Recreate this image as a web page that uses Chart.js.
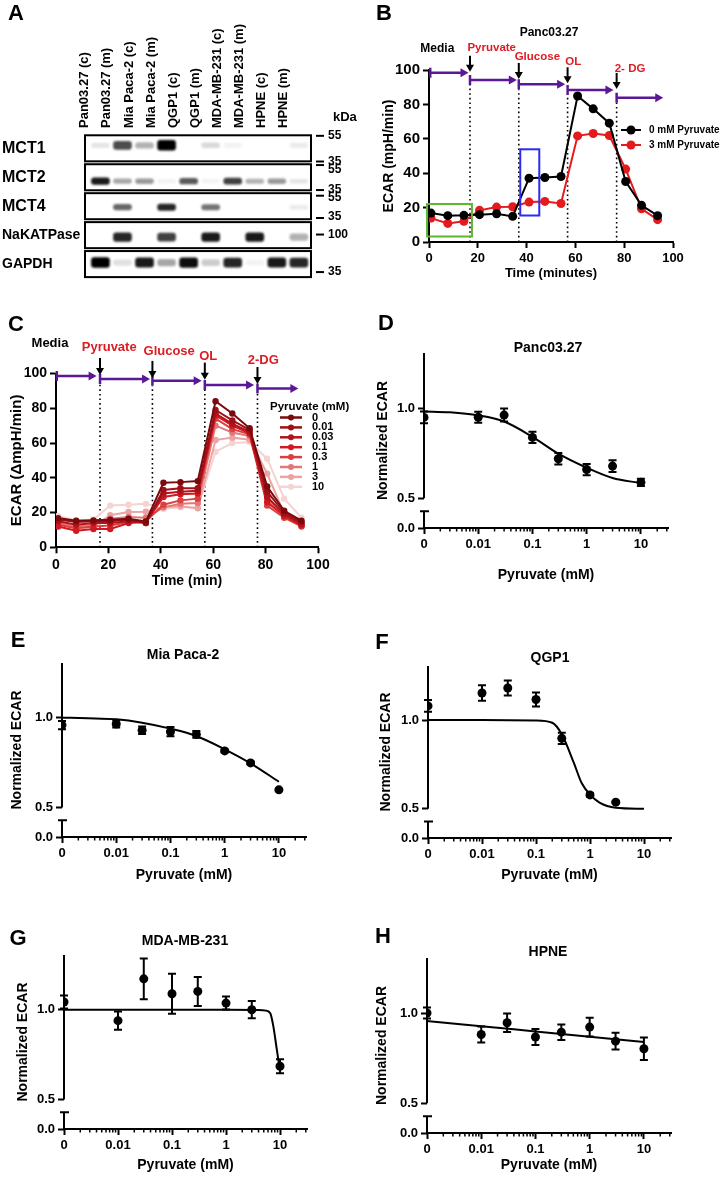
<!DOCTYPE html>
<html>
<head>
<meta charset="utf-8">
<script src="https://cdn.jsdelivr.net/npm/chart.js@4.4.1/dist/chart.umd.min.js"></script>
<style>
  body { margin: 0; background: #fff; }
  #fig { position: relative; width: 722px; height: 1186px; overflow: hidden;
         font-family: 'Liberation Sans', Arial, Helvetica, sans-serif; font-weight: bold; color: #000; }
  #fig canvas { position: absolute; }
  .lbl { position: absolute; transform: translate(-50%, -50%); white-space: nowrap; z-index: 2; }
  .letter { font-size: 22px; }
  .ttl { font-size: 14px; }
</style>
</head>
<body>
<div id="fig">
  <div class="lbl letter" style="left:16px;top:13px">A</div>
  <div class="lbl letter" style="left:384px;top:13px">B</div>
  <div class="lbl letter" style="left:16px;top:324px">C</div>
  <div class="lbl letter" style="left:386px;top:323px">D</div>
  <div class="lbl letter" style="left:18px;top:640px">E</div>
  <div class="lbl letter" style="left:382px;top:642px">F</div>
  <div class="lbl letter" style="left:18px;top:938px">G</div>
  <div class="lbl letter" style="left:383px;top:936px">H</div>

  <div class="lbl" style="left:549px;top:32px;font-size:12px">Panc03.27</div>
  <div class="lbl ttl" style="left:548px;top:347px">Panc03.27</div>
  <div class="lbl ttl" style="left:183px;top:654px">Mia Paca-2</div>
  <div class="lbl ttl" style="left:550px;top:657px">QGP1</div>
  <div class="lbl ttl" style="left:185px;top:940px">MDA-MB-231</div>
  <div class="lbl ttl" style="left:548px;top:951px">HPNE</div>
</div>

<script>
// ---- A: western blot ----
const lanes = ['Pan03.27 (c)', 'Pan03.27 (m)', 'Mia Paca-2 (c)', 'Mia Paca-2 (m)', 'QGP1 (c)',
               'QGP1 (m)', 'MDA-MB-231 (c)', 'MDA-MB-231 (m)', 'HPNE (c)', 'HPNE (m)'];
const proteins = ['MCT1', 'MCT2', 'MCT4', 'NaKATPase', 'GAPDH'];
// band darkness per lane, 0 = no band
const mct1      = [0.10, 0.70, 0.30, 1.00, 0.00, 0.15, 0.05, 0.00, 0.00, 0.08];
const mct2      = [0.90, 0.35, 0.40, 0.05, 0.65, 0.05, 0.75, 0.30, 0.40, 0.10];
const mct4      = [0.00, 0.60, 0.00, 0.85, 0.00, 0.55, 0.00, 0.00, 0.00, 0.08];
const nakatpase = [0.00, 0.85, 0.00, 0.75, 0.00, 0.90, 0.00, 0.90, 0.00, 0.30];
const gapdh     = [1.00, 0.12, 0.90, 0.35, 0.95, 0.20, 0.85, 0.05, 0.90, 0.85];

// ---- B / C: ECAR time course ----
const timeMin  = [0.8, 7.7, 14.3, 20.7, 27.7, 34.3, 41.0, 47.5, 54.1, 60.9, 67.3, 73.9, 80.6, 87.1, 93.7];
const ecar0mM  = [16.8, 15.3, 15.5, 15.9, 16.4, 14.9, 37.1, 37.5, 38.1, 84.9, 77.4, 69.1, 35.2, 21.3, 15.3];
const ecar3mM  = [13.9, 10.8, 12.0, 18.4, 20.3, 20.5, 23.2, 23.6, 22.4, 61.7, 63.1, 61.9, 42.4, 19.3, 13.0];
const injections = ['Pyruvate', 'Glucose', 'OL', '2-DG'];

const pyrDoses = ['0', '0.01', '0.03', '0.1', '0.3', '1', '3', '10'];
const cP0    = [16.8, 15.3, 15.5, 15.9, 16.4, 14.9, 37.1, 37.5, 38.1, 84.0, 77.0, 68.5, 35.0, 21.0, 15.3];
const cP001  = [16.0, 14.5, 15.0, 15.0, 16.0, 14.0, 33.0, 34.0, 34.0, 79.0, 73.0, 67.5, 32.0, 20.0, 14.5];
const cP003  = [15.0, 13.0, 14.0, 14.0, 15.0, 14.0, 31.0, 32.0, 32.5, 77.0, 71.0, 66.5, 29.0, 19.0, 13.5];
const cP01   = [12.0, 9.5, 10.5, 10.5, 14.0, 14.5, 29.0, 30.5, 31.0, 76.0, 70.0, 65.5, 26.0, 18.0, 12.5];
const cP03   = [13.0, 11.0, 12.0, 12.5, 14.5, 15.0, 24.5, 27.0, 28.0, 74.0, 68.0, 65.0, 24.0, 17.0, 12.0];
const cP1    = [14.0, 12.0, 13.0, 16.5, 17.5, 17.0, 23.0, 25.0, 25.5, 70.0, 66.0, 64.0, 28.0, 18.0, 12.5];
const cP3    = [13.9, 10.8, 12.0, 18.4, 20.3, 20.5, 23.2, 23.6, 22.4, 61.7, 63.1, 61.9, 42.4, 19.3, 13.0];
const cP10   = [18.0, 15.5, 16.0, 24.0, 24.5, 25.0, 22.0, 23.0, 23.0, 55.0, 60.0, 60.5, 51.0, 28.0, 17.0];
const cSeries = [cP0, cP001, cP003, cP01, cP03, cP1, cP3, cP10];

// ---- D-H: normalized ECAR vs pyruvate ----
const doseMM = [0, 0.01, 0.03, 0.1, 0.3, 1, 3, 10];
const pancMean = [0.948, 0.949, 0.961, 0.837, 0.719, 0.659, 0.678, 0.588];
const pancSem  = [0.033, 0.031, 0.036, 0.031, 0.032, 0.031, 0.033, 0.020];
const pancFitX = [0.001, 0.003, 0.01, 0.03, 0.1, 0.3, 1, 3, 10];
const pancFitY = [0.981, 0.976, 0.959, 0.925, 0.840, 0.747, 0.669, 0.612, 0.584];

const miaMean = [0.959, 0.965, 0.930, 0.922, 0.907, 0.815, 0.748, 0.598];
const miaSem  = [0.023, 0.020, 0.021, 0.026, 0.019, 0.008, 0.008, 0.006];
const miaFitX = [0.001, 0.003, 0.01, 0.03, 0.1, 0.3, 1, 3, 10];
const miaFitY = [1.000, 0.997, 0.991, 0.972, 0.939, 0.898, 0.824, 0.746, 0.643];

const qgpMean = [1.080, 1.153, 1.181, 1.116, 0.897, 0.578, 0.537, null];
const qgpSem  = [0.033, 0.044, 0.042, 0.039, 0.032, 0.010, 0.006, null];
const qgpFitX = [0.001, 0.01, 0.1, 0.2, 0.3, 0.5, 0.7, 1, 1.5, 3, 10];
const qgpFitY = [1.000, 1.000, 0.998, 0.985, 0.920, 0.760, 0.645, 0.580, 0.535, 0.506, 0.500];

const mdaMean = [1.043, 0.939, 1.172, 1.089, 1.102, 1.037, 1.000, 0.685];
const mdaSem  = [0.036, 0.051, 0.114, 0.111, 0.081, 0.036, 0.048, 0.039];
const mdaFitX = [0.001, 1, 4, 5.5, 6.6, 7.5, 8.7, 10];
const mdaFitY = [1.000, 1.000, 0.999, 0.995, 0.980, 0.910, 0.780, 0.660];

const hpneMean = [1.000, 0.881, 0.946, 0.867, 0.894, 0.922, 0.844, 0.802];
const hpneSem  = [0.031, 0.045, 0.051, 0.044, 0.043, 0.052, 0.046, 0.063];
const hpneFitX = [0.001, 0.01, 0.1, 1, 10];
const hpneFitY = [0.956, 0.927, 0.898, 0.869, 0.839];

// ------------------------------------------------------------------
const FONT = "'Liberation Sans', Arial, Helvetica, sans-serif";
const RED = '#e41a1c';
const NOTE_RED = '#dd1c24';
const PURPLE = '#5a1896';
const cColors = ['#7a0a0e', '#9e0f16', '#b5121b', '#cf1a21', '#d9403f', '#e47676', '#eca3a3', '#f5d3d3'];

Chart.defaults.font.family = FONT;
Chart.defaults.font.weight = 'bold';
Chart.defaults.color = '#000';
Chart.defaults.plugins.legend.display = false;
Chart.defaults.plugins.tooltip.enabled = false;

function addCanvas(b) {
  const c = document.createElement('canvas');
  c.width = b.w; c.height = b.h;
  c.style.left = b.x + 'px'; c.style.top = b.y + 'px';
  c.style.width = b.w + 'px'; c.style.height = b.h + 'px';
  document.getElementById('fig').appendChild(c);
  return c;
}

// padding + axis sizes so the plot area lands where the figure has it
function frame(box, plot, yTitleX, xTitleY, yFs, xFs) {
  const pl = yTitleX - box.x - 4 - yFs * 0.6;
  const sb = xTitleY + 4 + xFs * 0.6;
  return {
    padding: { left: pl, right: box.x + box.w - plot.r, top: plot.t - box.y, bottom: box.y + box.h - sb },
    yw: plot.l - box.x - pl,
    xh: sb - plot.b
  };
}

function axis(size, o) {
  const a = {
    border: { color: '#000', width: 2 },
    grid: { drawOnChartArea: false, color: '#000', tickColor: '#000', tickLength: 6, tickWidth: 2 },
    ticks: Object.assign({ color: '#000', font: { size: size, weight: 'bold' }, padding: 3 }, o.ticks || {})
  };
  if (o.title) a.title = { display: true, text: o.title, color: '#000', font: { size: o.titleSize, weight: 'bold' } };
  ['type', 'min', 'max', 'position', 'afterFit', 'afterBuildTicks', 'border', 'offset'].forEach(k => {
    if (o[k] !== undefined) a[k] = o[k];
  });
  return a;
}

const base = { responsive: false, maintainAspectRatio: false, devicePixelRatio: 1, animation: false };

// ================= A =================
const boxA = { x: 0, y: 0, w: 361, h: 290 };
const rowPx = 29.37;
const bandShift = [-3, 4, 1, 2, -1.5];          // px, band centre vs box centre
const bandSize = [[4, 6], [3.5, 3.5], [3.5, 3.5], [6, 3], [5, 5]];
const ladder = [ // row, kDa, dash offset, text offset (px from box centre)
  [0, '55', -12.5, -12.5], [0, '35', 13.2, 13], [1, '55', -12.2, -8], [1, '35', 12.8, 12],
  [2, '55', -10.5, -8.7], [2, '35', 11.8, 10.3], [3, '100', -0.6, 0], [4, '35', 8, 8]
];
const blotRows = [mct1, mct2, mct4, nakatpase, gapdh];

const bandSets = blotRows.map((row, r) => {
  const data = [], colors = [];
  row.forEach((v, i) => {
    if (v <= 0) return;
    const h = (bandSize[r][0] + bandSize[r][1] * v) / 2 / rowPx;
    const c = r + bandShift[r] / rowPx;
    data.push({ x: i + 1, y: [c - h, c + h] });
    colors.push('rgba(0,0,0,' + v.toFixed(2) + ')');
  });
  return { label: proteins[r], data, backgroundColor: colors, borderWidth: 0, borderRadius: 3,
           borderSkipped: false, barThickness: 18, grouped: false };
});

const blotFrame = {
  id: 'blotFrame',
  beforeDatasetsDraw(chart) { chart.ctx.save(); chart.ctx.filter = 'blur(1.2px)'; },
  afterDatasetsDraw(chart) {
    const { ctx, chartArea: ca, scales: { y } } = chart;
    ctx.restore();
    ctx.save();
    ctx.strokeStyle = '#000'; ctx.lineWidth = 2;
    proteins.forEach((p, r) => {
      const y0 = y.getPixelForValue(r - 0.45), y1 = y.getPixelForValue(r + 0.45);
      ctx.strokeRect(ca.left, y0, ca.right - ca.left, y1 - y0);
    });
    ctx.font = 'bold 12px ' + FONT; ctx.fillStyle = '#000';
    ctx.textBaseline = 'middle'; ctx.textAlign = 'left';
    ladder.forEach(([r, kda, dd, td]) => {
      const yc = y.getPixelForValue(r);
      ctx.beginPath(); ctx.moveTo(316, yc + dd); ctx.lineTo(324, yc + dd); ctx.stroke();
      ctx.fillText(kda, 328, yc + td);
    });
    ctx.font = 'bold 13px ' + FONT;
    ctx.fillText('kDa', 333, 117);
    ctx.restore();
  }
};

const fA = { padding: { left: 2, right: boxA.w - 311, top: 0, bottom: boxA.h - 279.5 }, yw: 83, xh: 135 };
new Chart(addCanvas(boxA), {
  type: 'bar',
  data: { datasets: bandSets },
  options: Object.assign({}, base, {
    layout: { padding: fA.padding },
    scales: {
      x: {
        type: 'linear', position: 'top', min: 0.3, max: 10.55, offset: false,
        afterBuildTicks: s => { s.ticks = lanes.map((l, i) => ({ value: i + 1 })); },
        afterFit: s => { s.height = fA.xh; },
        grid: { display: false, drawTicks: false }, border: { display: false },
        ticks: { autoSkip: false, minRotation: 90, maxRotation: 90, padding: 7, color: '#000',
                 font: { size: 13, weight: 'bold' }, callback: v => lanes[v - 1] }
      },
      y: {
        type: 'linear', reverse: true, min: -0.46, max: 4.46,
        afterBuildTicks: s => { s.ticks = proteins.map((p, i) => ({ value: i })); },
        afterFit: s => { s.width = fA.yw; },
        grid: { display: false, drawTicks: false }, border: { display: false },
        ticks: { crossAlign: 'far', color: '#000', callback: v => proteins[v],
                 font: c => ({ size: c.index < 3 ? 16 : 14, weight: 'bold' }) }
      }
    }
  }),
  plugins: [blotFrame]
});

// ============ B & C helpers ============
function seahorseNotes(n) {
  return {
    id: 'seahorseNotes',
    beforeDatasetsDraw(chart) {
      const { ctx, scales: { x, y } } = chart;
      ctx.save();
      ctx.strokeStyle = '#000'; ctx.lineWidth = 1.6; ctx.setLineDash([1.6, 3]);
      n.inject.forEach((t, k) => {
        const px = x.getPixelForValue(t);
        ctx.beginPath();
        ctx.moveTo(px, y.getPixelForValue(0));
        ctx.lineTo(px, y.getPixelForValue(n.segs[k + 1][2]) + 5);
        ctx.stroke();
      });
      ctx.restore();
    },
    afterDraw(chart) {
      const { ctx, scales: { x, y } } = chart;
      ctx.save();
      ctx.strokeStyle = PURPLE; ctx.fillStyle = PURPLE; ctx.lineWidth = 2.5;
      n.segs.forEach(([a, b, v]) => {
        const x0 = x.getPixelForValue(a), x1 = x.getPixelForValue(b), py = y.getPixelForValue(v);
        ctx.beginPath();
        ctx.moveTo(x0, py - 5); ctx.lineTo(x0, py + 5);
        ctx.moveTo(x0, py); ctx.lineTo(x1 - 6, py);
        ctx.stroke();
        ctx.beginPath();
        ctx.moveTo(x1, py); ctx.lineTo(x1 - 8, py - 4.5); ctx.lineTo(x1 - 8, py + 4.5);
        ctx.closePath(); ctx.fill();
      });
      ctx.strokeStyle = '#000'; ctx.fillStyle = '#000'; ctx.lineWidth = 2;
      n.inject.forEach((t, k) => {
        const px = x.getPixelForValue(t), tip = y.getPixelForValue(n.segs[k][2]) - 1;
        ctx.beginPath(); ctx.moveTo(px, tip - n.arrow); ctx.lineTo(px, tip - 5); ctx.stroke();
        ctx.beginPath();
        ctx.moveTo(px, tip); ctx.lineTo(px - 4, tip - 7); ctx.lineTo(px + 4, tip - 7);
        ctx.closePath(); ctx.fill();
      });
      ctx.textAlign = 'center'; ctx.textBaseline = 'middle';
      n.labels.forEach(([txt, a, v, col, fs]) => {
        ctx.font = 'bold ' + fs + 'px ' + FONT; ctx.fillStyle = col;
        ctx.fillText(txt, x.getPixelForValue(a), y.getPixelForValue(v));
      });
      (n.boxes || []).forEach(([a, b, v0, v1, col]) => {
        ctx.strokeStyle = col; ctx.lineWidth = 2;
        const x0 = x.getPixelForValue(a), x1 = x.getPixelForValue(b);
        const y0 = y.getPixelForValue(v1), y1 = y.getPixelForValue(v0);
        ctx.strokeRect(x0, y0, x1 - x0, y1 - y0);
      });
      ctx.restore();
    }
  };
}

function seriesKey(k) {
  return {
    id: 'seriesKey',
    afterDraw(chart) {
      const ctx = chart.ctx;
      ctx.save();
      ctx.textBaseline = 'middle'; ctx.textAlign = 'left'; ctx.fillStyle = '#000';
      if (k.title) { ctx.font = 'bold ' + k.titleSize + 'px ' + FONT; ctx.fillText(k.title, k.titleX, k.titleY); }
      ctx.font = 'bold ' + k.size + 'px ' + FONT;
      chart.data.datasets.forEach((ds, i) => {
        const yy = k.y + i * k.dy;
        ctx.strokeStyle = ds.borderColor; ctx.fillStyle = ds.borderColor; ctx.lineWidth = k.lw;
        ctx.beginPath(); ctx.moveTo(k.x0, yy); ctx.lineTo(k.x1, yy); ctx.stroke();
        ctx.beginPath(); ctx.arc((k.x0 + k.x1) / 2, yy, k.r, 0, Math.PI * 2); ctx.fill();
        ctx.fillStyle = '#000';
        ctx.fillText(ds.label, k.tx, yy);
      });
      ctx.restore();
    }
  };
}

function trace(label, ys, color, r) {
  return { label, data: timeMin.map((t, i) => ({ x: t, y: ys[i] })), borderColor: color, backgroundColor: color,
           pointBackgroundColor: color, pointBorderColor: color, pointRadius: r, pointBorderWidth: 0,
           borderWidth: 2, tension: 0, fill: false };
}

// ================= B =================
const boxB = { x: 361, y: 0, w: 361, h: 290 };
const fB = frame(boxB, { l: 429, r: 673, t: 70, b: 242 }, 389, 273, 14, 13);
new Chart(addCanvas(boxB), {
  type: 'line',
  data: { datasets: [trace('0 mM Pyruvate', ecar0mM, '#000', 4.5), trace('3 mM Pyruvate', ecar3mM, RED, 4.5)] },
  options: Object.assign({}, base, {
    layout: { padding: fB.padding },
    scales: {
      x: axis(13, { type: 'linear', min: 0, max: 100, ticks: { stepSize: 20 }, title: 'Time (minutes)', titleSize: 13,
                    afterFit: s => { s.height = fB.xh; } }),
      y: axis(15, { type: 'linear', min: 0, max: 100, ticks: { stepSize: 20 }, title: 'ECAR (mpH/min)', titleSize: 14,
                    afterFit: s => { s.width = fB.yw; } })
    }
  }),
  plugins: [
    seahorseNotes({
      inject: [16.8, 36.8, 56.8, 76.9],
      segs: [[0.5, 16.2, 98.4], [16.8, 36.0, 94.2], [36.8, 55.8, 91.7], [56.8, 75.6, 88.4], [76.9, 96, 83.9]],
      arrow: 16,
      labels: [['Media', 3.4, 112.2, '#000', 12], [injections[0], 25.7, 112.6, NOTE_RED, 11.5],
               [injections[1], 44.4, 107.7, NOTE_RED, 11.5], [injections[2], 59.1, 104.5, NOTE_RED, 11.5],
               ['2- DG', 82.4, 100.4, NOTE_RED, 11.5]],
      boxes: [[-0.8, 17.6, 3.2, 22.1, '#5cb82e'], [37.4, 45.2, 15.4, 53.9, '#2b2bf2']]
    }),
    seriesKey({ x0: 260, x1: 280, y: 130, dy: 15, tx: 288, size: 10, r: 4.5, lw: 2 })
  ]
});

// ================= C =================
const boxC = { x: 0, y: 300, w: 361, h: 295 };
const fC = frame(boxC, { l: 56, r: 318, t: 373.5, b: 547.3 }, 16.7, 580.7, 15, 14);
new Chart(addCanvas(boxC), {
  type: 'line',
  data: { datasets: cSeries.map((s, i) => trace(pyrDoses[i], s, cColors[i], 3.2)) },
  options: Object.assign({}, base, {
    layout: { padding: fC.padding },
    scales: {
      x: axis(14, { type: 'linear', min: 0, max: 100, ticks: { stepSize: 20 }, title: 'Time (min)', titleSize: 14,
                    afterFit: s => { s.height = fC.xh; } }),
      y: axis(14, { type: 'linear', min: 0, max: 100, ticks: { stepSize: 20 }, title: 'ECAR (ΔmpH/min)', titleSize: 15,
                    afterFit: s => { s.width = fC.yw; } })
    }
  }),
  plugins: [
    seahorseNotes({
      inject: [16.8, 36.8, 56.8, 76.9],
      segs: [[0.3, 15.5, 98.6], [16.8, 35.9, 96.9], [36.8, 55.6, 95.9], [56.8, 75.6, 93.4], [76.9, 92.5, 91.3]],
      arrow: 17,
      labels: [['Media', -2.3, 117.5, '#000', 13], [injections[0], 20.3, 115.2, NOTE_RED, 13],
               [injections[1], 43.2, 112.6, NOTE_RED, 13], [injections[2], 58.1, 109.8, NOTE_RED, 13],
               [injections[3], 79.1, 107.3, NOTE_RED, 13]]
    }),
    seriesKey({ title: 'Pyruvate (mM)', titleX: 270, titleY: 106.7, titleSize: 11.5,
                x0: 280, x1: 302, y: 117.5, dy: 9.9, tx: 312, size: 11, r: 3, lw: 2.5 })
  ]
});

// ================= D-H =================
const ZERO_AT = 0.001;     // where "0" sits on the log axis
const Y_MIN = 0.335, Y_MAX = 1.305, BREAK = 0.428;
const doseTicks = [0.001, 0.01, 0.1, 1, 10];

const errorBars = {
  id: 'errorBars',
  afterDatasetsDraw(chart) {
    const { ctx, scales: { x, y } } = chart;
    ctx.save(); ctx.strokeStyle = '#000'; ctx.lineWidth = 2;
    chart.data.datasets.forEach(ds => {
      ds.data.forEach(p => {
        if (p.e == null) return;
        const px = x.getPixelForValue(p.x), y0 = y.getPixelForValue(p.y - p.e), y1 = y.getPixelForValue(p.y + p.e);
        ctx.beginPath();
        ctx.moveTo(px, y0); ctx.lineTo(px, y1);
        ctx.moveTo(px - 4, y0); ctx.lineTo(px + 4, y0);
        ctx.moveTo(px - 4, y1); ctx.lineTo(px + 4, y1);
        ctx.stroke();
      });
    });
    ctx.restore();
  }
};

const brokenAxis = {
  id: 'brokenAxis',
  afterDraw(chart) {
    const { ctx, chartArea: { left, top, bottom }, scales: { x, y } } = chart;
    ctx.save(); ctx.strokeStyle = '#000'; ctx.lineWidth = 2;
    const yHi = y.getPixelForValue(0.5), yLo = y.getPixelForValue(BREAK);
    ctx.beginPath();
    ctx.moveTo(left, top); ctx.lineTo(left, yHi);
    ctx.moveTo(left, yLo); ctx.lineTo(left, bottom + 1);
    ctx.moveTo(left - 4, yLo); ctx.lineTo(left + 5, yLo);
    ctx.stroke();
    // minor log ticks
    ctx.lineWidth = 1.5;
    for (let e = -3; e <= 1; e++) {
      for (let m = 2; m <= 9; m++) {
        const v = m * Math.pow(10, e);
        if (v > x.max) break;
        const px = x.getPixelForValue(v);
        ctx.beginPath(); ctx.moveTo(px, bottom); ctx.lineTo(px, bottom + 3.5); ctx.stroke();
      }
    }
    ctx.restore();
  }
};

function dosePanel(box, plot, yTitleX, xTitleY, mean, sem, fitX, fitY) {
  const f = frame(box, plot, yTitleX, xTitleY, 14, 14);
  const pts = [];
  doseMM.forEach((d, i) => {
    if (mean[i] == null) return;
    pts.push({ x: d === 0 ? ZERO_AT : d, y: mean[i], e: sem[i] });
  });
  new Chart(addCanvas(box), {
    type: 'scatter',
    data: {
      datasets: [
        { data: pts, backgroundColor: '#000', borderColor: '#000', pointRadius: 4.5, pointBorderWidth: 0 },
        { type: 'line', data: fitX.map((v, i) => ({ x: v, y: fitY[i] })), borderColor: '#000', borderWidth: 2,
          pointRadius: 0, cubicInterpolationMode: 'monotone', fill: false }
      ]
    },
    options: Object.assign({}, base, {
      layout: { padding: f.padding },
      scales: {
        x: axis(13, {
          type: 'logarithmic', min: ZERO_AT, max: 31.6,
          afterBuildTicks: s => { s.ticks = doseTicks.map(v => ({ value: v })); },
          ticks: { autoSkip: false, maxRotation: 0, callback: v => (v === ZERO_AT ? '0' : String(v)) },
          title: 'Pyruvate (mM)', titleSize: 14,
          afterFit: s => { s.height = f.xh; }
        }),
        y: axis(13, {
          type: 'linear', min: Y_MIN, max: Y_MAX,
          afterBuildTicks: s => { s.ticks = [{ value: Y_MIN }, { value: 0.5 }, { value: 1 }]; },
          ticks: { callback: v => (v < 0.4 ? '0.0' : v.toFixed(1)) },
          border: { display: false },
          title: 'Normalized ECAR', titleSize: 14,
          afterFit: s => { s.width = f.yw; }
        })
      }
    }),
    plugins: [errorBars, brokenAxis]
  });
}

dosePanel({ x: 361, y: 300, w: 361, h: 290 }, { l: 424, r: 668, t: 353, b: 528 }, 383, 575,
          pancMean, pancSem, pancFitX, pancFitY);
dosePanel({ x: 0, y: 598, w: 361, h: 292 }, { l: 62, r: 306, t: 663, b: 837 }, 17, 875,
          miaMean, miaSem, miaFitX, miaFitY);
dosePanel({ x: 361, y: 598, w: 361, h: 292 }, { l: 428, r: 671, t: 666, b: 838 }, 386, 875,
          qgpMean, qgpSem, qgpFitX, qgpFitY);
dosePanel({ x: 0, y: 895, w: 361, h: 291 }, { l: 64, r: 307, t: 955, b: 1129 }, 23, 1165,
          mdaMean, mdaSem, mdaFitX, mdaFitY);
dosePanel({ x: 361, y: 895, w: 361, h: 291 }, { l: 427, r: 671, t: 958, b: 1133 }, 382, 1165,
          hpneMean, hpneSem, hpneFitX, hpneFitY);
</script>
</body>
</html>
